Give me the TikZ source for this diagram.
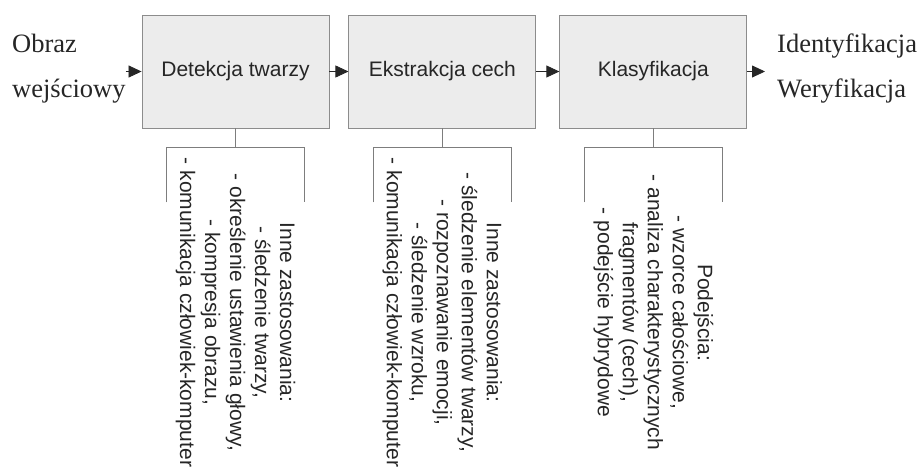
\documentclass[tikz,border=0pt]{standalone}
\usepackage{fontspec}
\setmainfont{Liberation Serif}
\setsansfont{Liberation Sans}
\usetikzlibrary{positioning, arrows.meta}

\definecolor{tlo}{RGB}{236,236,236}
\definecolor{ramka}{RGB}{140,140,140}
\definecolor{linia}{RGB}{125,125,125}

\tikzset{
	blok/.style={draw=ramka, fill=tlo, line width=0.9pt, minimum width=187pt, minimum height=113pt, inner sep=0pt, text=black!85, font=\sffamily\fontsize{21}{25}\selectfont},
	opis/.style={rotate=-90, align=center, inner sep=0pt, text=black!85, font=\sffamily\fontsize{21}{25}\selectfont},
	napis/.style={align=left, inner sep=0pt, text=black!85, font=\rmfamily\fontsize{26.5}{45}\selectfont},
	strzalka/.style={-{Triangle[length=13pt,width=12pt]}, line width=0.8pt, color=black!85},
	klamra/.style={draw=linia, line width=0.9pt},
}

\begin{document}
\begin{tikzpicture}[x=1pt, y=-1pt]
	\useasboundingbox (0,0) rectangle (924,467);

	\node[blok] (d1) at (235.5,71.5) {Detekcja twarzy};
	\node[blok, right=19pt of d1] (d2) {Ekstrakcja cech};
	\node[blok, right=23pt of d2] (d3) {Klasyfikacja};

	\node[napis, anchor=base west] (we) at (12,97) {Obraz\\wejściowy};
	\node[napis, anchor=base west] (wy) at (777,97) {Identyfikacja\\Weryfikacja};

	\draw[strzalka] (we.east |- d1) -- (d1);
	\draw[strzalka] (d1) -- (d2);
	\draw[strzalka] (d2) -- (d3);
	\draw[strzalka, shorten >=12pt] (d3) -- (wy.west |- d3);

	% klamry pod blokami
	\foreach \b in {d1,d2,d3} {
		\draw[klamra] (\b.south) -- ++(0,19) coordinate (k\b);
		\draw[klamra] ([shift={(-69,55)}]k\b) |- ([shift={(69,0)}]k\b) -- ++(0,55);
	}

	\node[opis] (o1) at ([yshift=-184pt]d1.south) {Inne zastosowania:\\- śledzenie twarzy,\\- określenie ustawienia głowy,\\- kompresja obrazu,\\- komunikacja człowiek-komputer};
	\node[opis] (o2) at ([yshift=-184pt]d2.south) {Inne zastosowania:\\- śledzenie elementów twarzy,\\- rozpoznawanie emocji,\\- śledzenie wzroku,\\- komunikacja człowiek-komputer};
	\node[opis] (o3) at ([yshift=-184pt]d3.south) {Podejścia:\\- wzorce całościowe,\\- analiza charakterystycznych\\fragmentów (cech),\\- podejście hybrydowe};
\end{tikzpicture}
\end{document}
